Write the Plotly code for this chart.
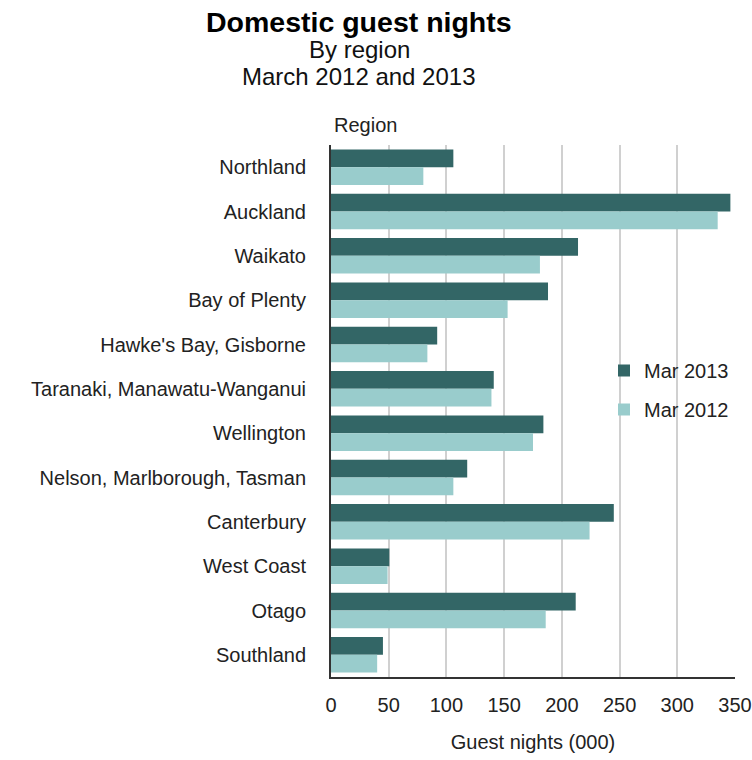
import plotly.graph_objects as go

regions = ["Northland", "Auckland", "Waikato", "Bay of Plenty", "Hawke's Bay, Gisborne",
           "Taranaki, Manawatu-Wanganui", "Wellington", "Nelson, Marlborough, Tasman",
           "Canterbury", "West Coast", "Otago", "Southland"]
mar2013 = [106, 346, 214, 188, 92, 141, 184, 118, 245, 50.5, 212, 45]
mar2012 = [80, 335, 181, 153, 83.5, 139, 175, 106, 224, 49, 186, 40]
x_ticks = [0, 50, 100, 150, 200, 250, 300, 350]

FONT = "Liberation Sans, Arial, sans-serif"
W, H = 752, 760
L, R, T, B = 331, 17, 145, 83
PW, PH = W - L - R, H - T - B


def px(x):
    return (x - L) / PW


def py(y):
    return 1 - (y - T) / PH


fig = go.Figure()
fig.add_trace(go.Bar(y=regions, x=mar2013, orientation="h", name="Mar 2013",
                     marker=dict(color="#336666", line=dict(width=0)), legendgroup="a"))
fig.add_trace(go.Bar(y=regions, x=mar2012, orientation="h", name="Mar 2012",
                     marker=dict(color="#99CCCC", line=dict(width=0)), legendgroup="b"))

fig.update_layout(
    width=W, height=H,
    margin=dict(l=L, r=R, t=T, b=B, autoexpand=False),
    paper_bgcolor="white", plot_bgcolor="white",
    barmode="group", bargap=0.2, bargroupgap=0,
    font=dict(family=FONT, size=20, color="#222222"),
    showlegend=True,
    legend=dict(x=px(604), y=py(351), xanchor="left", yanchor="top",
                bgcolor="rgba(0,0,0,0)", font=dict(size=20, color="#222"),
                tracegroupgap=10, itemwidth=30),
    xaxis=dict(range=[0, 350], tickvals=x_ticks, showgrid=True, gridcolor="#d0d0d0",
               gridwidth=1.5, zeroline=False, showline=True, linecolor="#333333",
               linewidth=2, ticks="", ticklabelstandoff=9, automargin=False,
               tickfont=dict(size=20, color="#222"),
               title=dict(text="Guest nights (000)", font=dict(size=20, color="#222"), standoff=20)),
    yaxis=dict(autorange="reversed", showgrid=False, showline=True, linecolor="#333333",
               linewidth=2, ticks="", ticklabelstandoff=19, automargin=False,
               tickfont=dict(size=20, color="#222")),
    annotations=[
        dict(text="<b>Domestic guest nights</b>", x=px(359), y=py(22), xanchor="center",
             yanchor="middle", font=dict(size=28.5, color="#000")),
        dict(text="By region", x=px(359), y=py(50), xanchor="center", yanchor="middle",
             font=dict(size=24, color="#111")),
        dict(text="March 2012 and 2013", x=px(359), y=py(77), xanchor="center",
             yanchor="middle", font=dict(size=24, color="#111")),
        dict(text="Region", x=px(332), y=py(125), xanchor="left", yanchor="middle",
             font=dict(size=20, color="#222")),
    ],
)
for a in fig.layout.annotations:
    a.update(xref="paper", yref="paper", showarrow=False)

fig.write_html("out.html", config={"displayModeBar": False},
               post_script="document.body.style.margin='0';document.body.style.overflow='hidden';")
